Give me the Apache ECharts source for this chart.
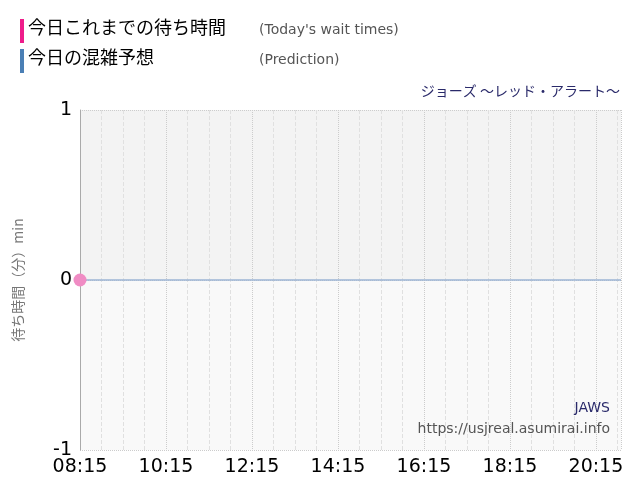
<!DOCTYPE html><html><head><meta charset="utf-8"><script src="https://cdn.jsdelivr.net/npm/echarts@6/dist/echarts.min.js"></script></head><body style="margin:0"><div id="c" style="width:640px;height:500px"></div><script>
const actualTimes=[495];const actualValues=[0];
const predTimes=[495,1250];const predValues=[0,0];
const xTickLabels=['08:15','10:15','12:15','14:15','16:15','18:15','20:15'];
const F='"DejaVu Sans","Noto Sans CJK JP",sans-serif';
const J='"Noto Sans CJK JP",sans-serif';
const ch=echarts.init(document.getElementById('c'));
ch.setOption({animation:false,
grid:{left:80,right:19,top:110,bottom:50},
graphic:[
{type:'rect',z:100,shape:{x:20,y:19,width:4,height:24},style:{fill:'#ee1c8a'}},
{type:'rect',z:100,shape:{x:20,y:49,width:4,height:24},style:{fill:'#4a7fb5'}},
{type:'text',z:100,left:28,top:18,style:{text:'今日これまでの待ち時間',font:'18px '+J,fill:'#000'}},
{type:'text',z:100,left:28,top:48,style:{text:'今日の混雑予想',font:'18px '+J,fill:'#000'}},
{type:'text',z:100,left:259,top:23,style:{text:"(Today's wait times)",font:'14px '+F,fill:'#555'}},
{type:'text',z:100,left:259,top:53,style:{text:'(Prediction)',font:'14px '+F,fill:'#555'}},
{type:'text',z:100,right:20,top:84,style:{text:'ジョーズ ～レッド・アラート～',font:'14px '+J,fill:'#2a2a6a'}},
{type:'text',z:100,right:30,top:401,style:{text:'JAWS',font:'14px '+F,fill:'#2a2a6a'}},
{type:'text',z:100,right:30,top:422,style:{text:'https://usjreal.asumirai.info',font:'14px '+F,fill:'#555'}}
],
xAxis:{type:'value',min:495,max:1250,interval:120,
 axisLabel:{formatter:v=>xTickLabels[(v-495)/120]||'',fontSize:19,color:'#000',fontFamily:F,showMaxLabel:false},
 axisLine:{show:false},axisTick:{show:false},
 splitLine:{show:true,lineStyle:{color:'#ccc',type:'dotted'}},
 minorTick:{show:false,splitNumber:4},minorSplitLine:{show:true,lineStyle:{color:'#e0e0e0',type:'dashed'}}},
yAxis:{type:'value',min:-1,max:1,interval:1,name:'待ち時間（分）min',nameLocation:'middle',nameGap:55,nameRotate:90,
 nameTextStyle:{color:'#777',fontSize:14,fontFamily:J},
 axisLabel:{fontSize:19,color:'#000',fontFamily:F},axisLine:{show:true,lineStyle:{color:'#aaa'}},axisTick:{show:false},
 splitArea:{show:true,areaStyle:{color:['#f9f9f9','#f3f3f3']}},
 splitLine:{show:true,lineStyle:{color:'#ccc',type:'dotted'}}},
series:[
{type:'line',data:predTimes.map((t,i)=>[t,predValues[i]]),symbol:'none',lineStyle:{color:'#9db4d4',width:1.5}},
{type:'line',data:actualTimes.map((t,i)=>[t,actualValues[i]]),symbol:'circle',symbolSize:13,itemStyle:{color:'#f08cc4'},lineStyle:{color:'#f08cc4'}}
]});
</script></body></html>
